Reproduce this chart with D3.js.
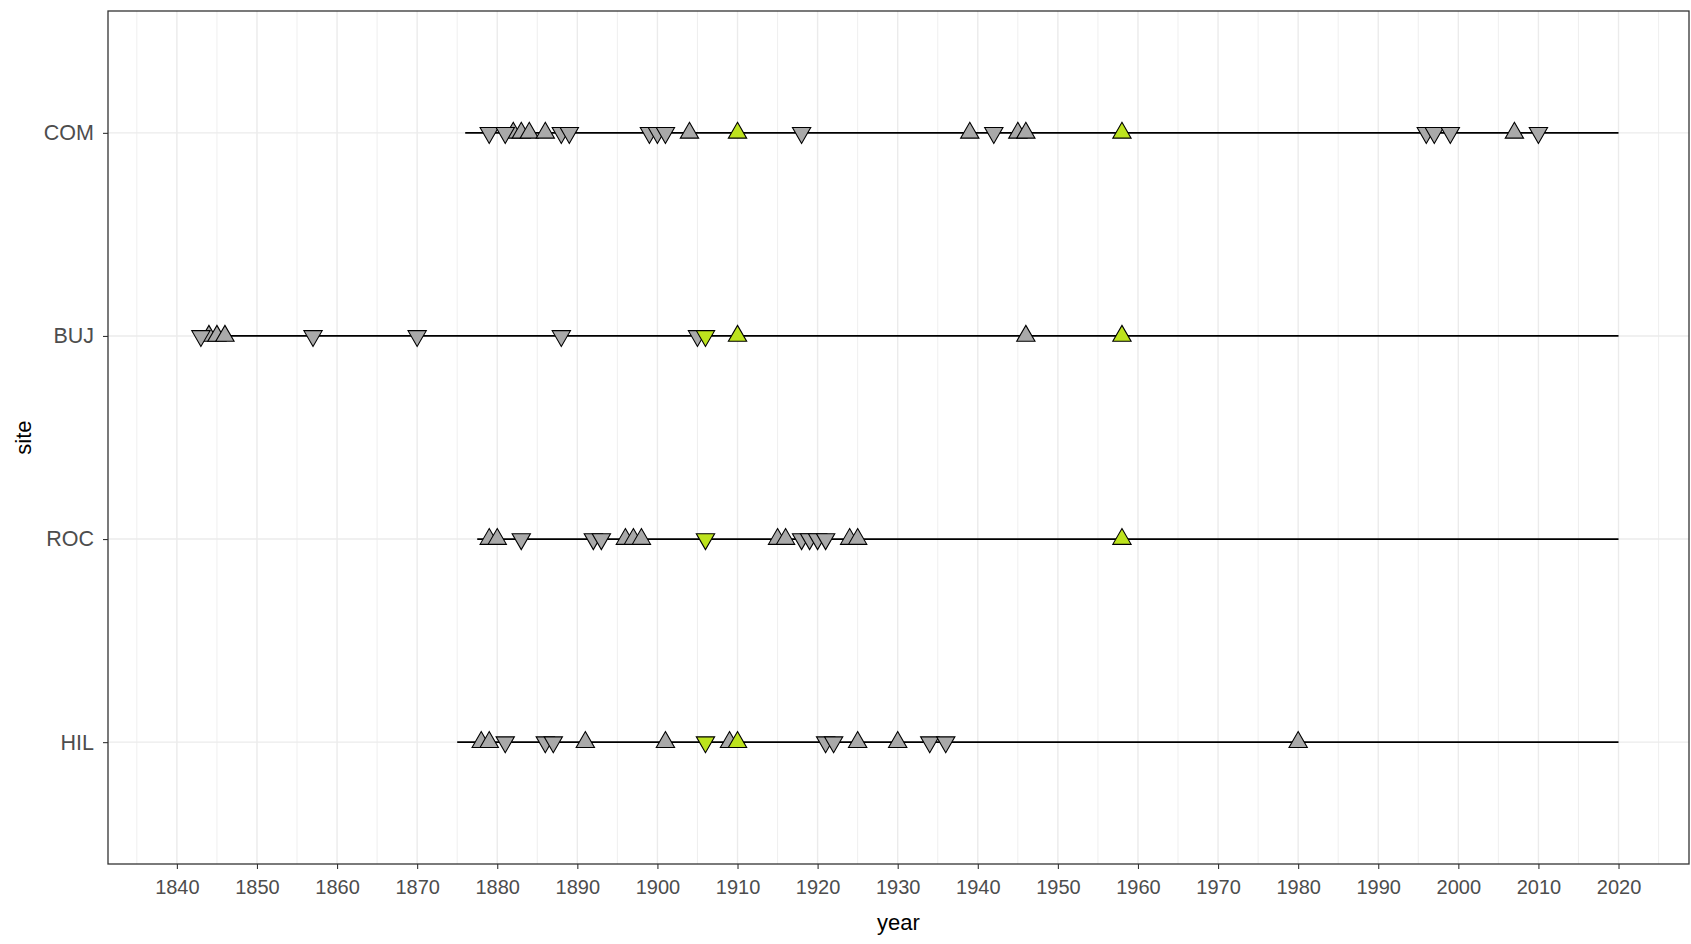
<!DOCTYPE html>
<html>
<head>
<meta charset="utf-8">
<script src="https://cdn.jsdelivr.net/npm/d3@7/dist/d3.min.js"></script>
<style>
  html, body { margin: 0; padding: 0; background: #ffffff; }
  svg { display: block; font-family: "Liberation Sans", Arial, sans-serif; }
</style>
</head>
<body>
<svg id="chart" width="1691" height="944"></svg>
<script>
// ---------------- data ----------------
const sites = ["COM", "BUJ", "ROC", "HIL"];
const lineStart = [1876, 1842.5, 1877.5, 1875];
const lineEnd = [2020, 2020, 2020, 2020];

// grey upward triangles
const upCOM = [1882, 1883, 1884, 1886, 1904, 1939, 1945, 1946, 2007];
const upBUJ = [1844, 1845, 1846, 1946];
const upROC = [1879, 1880, 1896, 1897, 1898, 1915, 1916, 1924, 1925];
const upHIL = [1878, 1879, 1891, 1901, 1909, 1925, 1930, 1980];

// grey downward triangles
const downCOM = [1879, 1881, 1888, 1889, 1899, 1900, 1901, 1918, 1942, 1996, 1997, 1999, 2010];
const downBUJ = [1843, 1857, 1870, 1888, 1905];
const downROC = [1883, 1892, 1893, 1918, 1919, 1920, 1921];
const downHIL = [1881, 1886, 1887, 1921, 1922, 1934, 1936];

// highlighted (green) triangles
const greenUpCOM = [1910, 1958];
const greenUpBUJ = [1910, 1958];
const greenUpROC = [1958];
const greenUpHIL = [1910];
const greenDownCOM = [];
const greenDownBUJ = [1906];
const greenDownROC = [1906];
const greenDownHIL = [1906];

const xTicks = [1840, 1850, 1860, 1870, 1880, 1890, 1900, 1910, 1920, 1930, 1940, 1950, 1960, 1970, 1980, 1990, 2000, 2010, 2020];
const xMinor = [1835, 1845, 1855, 1865, 1875, 1885, 1895, 1905, 1915, 1925, 1935, 1945, 1955, 1965, 1975, 1985, 1995, 2005, 2015, 2025];
const xTitle = "year";
const yTitle = "site";

// ---------------- build ----------------
const ups = {COM: upCOM, BUJ: upBUJ, ROC: upROC, HIL: upHIL};
const downs = {COM: downCOM, BUJ: downBUJ, ROC: downROC, HIL: downHIL};
const gUps = {COM: greenUpCOM, BUJ: greenUpBUJ, ROC: greenUpROC, HIL: greenUpHIL};
const gDowns = {COM: greenDownCOM, BUJ: greenDownBUJ, ROC: greenDownROC, HIL: greenDownHIL};

const points = [];
sites.forEach(s => {
  ups[s].forEach(y => points.push({site: s, year: y, dir: "up", hl: false}));
  downs[s].forEach(y => points.push({site: s, year: y, dir: "down", hl: false}));
});
sites.forEach(s => {
  gUps[s].forEach(y => points.push({site: s, year: y, dir: "up", hl: true}));
  gDowns[s].forEach(y => points.push({site: s, year: y, dir: "down", hl: true}));
});

const svg = d3.select("#chart");
const P = {left: 108, right: 1689, top: 11, bottom: 864};

const x = d3.scaleLinear().domain([1831.4, 2028.8]).range([P.left, P.right]);
const y = d3.scalePoint().domain(sites).range([P.top, P.bottom]).padding(0.6);

const GRID = "#ebebeb";
const g = svg.append("g");

// minor grid
g.selectAll("line.minor").data(xMinor.filter(v => x(v) > P.left && x(v) < P.right)).enter()
  .append("line")
  .attr("x1", d => x(d)).attr("x2", d => x(d))
  .attr("y1", P.top).attr("y2", P.bottom)
  .attr("stroke", GRID).attr("stroke-width", 0.8);
// major grid
g.selectAll("line.majx").data(xTicks).enter()
  .append("line")
  .attr("x1", d => x(d)).attr("x2", d => x(d))
  .attr("y1", P.top).attr("y2", P.bottom)
  .attr("stroke", GRID).attr("stroke-width", 1.4);
g.selectAll("line.majy").data(sites).enter()
  .append("line")
  .attr("x1", P.left).attr("x2", P.right)
  .attr("y1", d => y(d)).attr("y2", d => y(d))
  .attr("stroke", GRID).attr("stroke-width", 1.4);

// site lines
g.selectAll("line.site").data(sites).enter()
  .append("line")
  .attr("x1", (d, i) => x(lineStart[i])).attr("x2", (d, i) => x(lineEnd[i]))
  .attr("y1", d => y(d)).attr("y2", d => y(d))
  .attr("stroke", "#000").attr("stroke-width", 1.8);

// triangles
const tri = d3.symbol().type(d3.symbolTriangle).size(145);
g.selectAll("path.pt").data(points).enter()
  .append("path")
  .attr("d", tri)
  .attr("transform", d => `translate(${x(d.year)},${y(d.site)}) rotate(${d.dir === "down" ? 180 : 0})`)
  .attr("fill", d => d.hl ? "#bde31e" : "#a9a9a9")
  .attr("stroke", "#000").attr("stroke-width", 1.1);

// panel border
svg.append("rect")
  .attr("x", P.left).attr("y", P.top)
  .attr("width", P.right - P.left).attr("height", P.bottom - P.top)
  .attr("fill", "none").attr("stroke", "#333333").attr("stroke-width", 1.3);

// x axis
const xAxis = d3.axisBottom(x).tickValues(xTicks).tickFormat(d3.format("d")).tickSizeOuter(0).tickSize(5).tickPadding(11);
const gx = svg.append("g").attr("transform", `translate(0,${P.bottom})`).call(xAxis);
gx.select(".domain").remove();
gx.selectAll(".tick line").attr("stroke", "#333333").attr("stroke-width", 1.1);
gx.selectAll(".tick text").attr("fill", "#4d4d4d").attr("font-size", 20)
  .attr("font-family", "Liberation Sans, Arial, sans-serif");

// y axis
const yAxis = d3.axisLeft(y).tickSizeOuter(0).tickSize(5).tickPadding(9);
const gy = svg.append("g").attr("transform", `translate(${P.left},0)`).call(yAxis);
gy.select(".domain").remove();
gy.selectAll(".tick line").attr("stroke", "#333333").attr("stroke-width", 1.1);
gy.selectAll(".tick text").attr("fill", "#4d4d4d").attr("font-size", 21.5)
  .attr("font-family", "Liberation Sans, Arial, sans-serif");

// titles
svg.append("text")
  .attr("x", (P.left + P.right) / 2).attr("y", 930)
  .attr("text-anchor", "middle")
  .attr("font-size", 22).attr("fill", "#000")
  .text(xTitle);
svg.append("text")
  .attr("transform", `translate(31,${(P.top + P.bottom) / 2}) rotate(-90)`)
  .attr("text-anchor", "middle")
  .attr("font-size", 22).attr("fill", "#000")
  .text(yTitle);
</script>
</body>
</html>
